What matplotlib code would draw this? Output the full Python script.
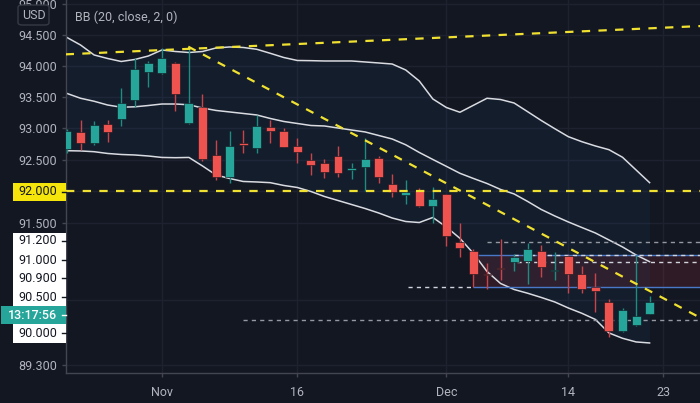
import matplotlib
matplotlib.use("Agg")
import matplotlib.pyplot as plt
import numpy as np
from matplotlib.patches import Rectangle, FancyBboxPatch
from matplotlib.lines import Line2D
from matplotlib.ticker import FixedLocator, FixedFormatter, NullLocator

plt.rcParams['font.family'] = ['Roboto', 'DejaVu Sans']
plt.rcParams['lines.scale_dashes'] = False

# ---------------- data (daily candles, Oct 22 .. Dec 22) ----------------
opens = [92.667, 92.938, 92.763, 93.075, 93.145, 93.449, 93.908, 93.892, 94.048, 93.081,
         93.346, 92.572, 92.234, 92.763, 92.693, 93.017, 92.958, 92.720, 92.498, 92.446,
         92.561, 92.344, 92.392, 92.525, 92.118, 91.945, 92.024, 91.777, 91.956, 91.203,
         91.067, 90.709, 90.807, 90.891, 90.911, 91.067, 90.751, 90.994, 90.704, 90.504,
         90.280, 89.828, 89.920, 90.090]
highs = [92.990, 93.134, 93.118, 93.134, 93.641, 94.123, 94.085, 94.285, 94.064, 94.311,
         93.550, 92.815, 92.958, 92.974, 93.214, 93.134, 93.002, 92.842, 92.614, 92.509,
         92.725, 92.446, 92.842, 92.561, 92.276, 92.182, 92.055, 92.066, 91.961, 91.510,
         91.094, 90.875, 91.250, 91.020, 91.197, 91.153, 91.044, 91.005, 90.833, 90.720,
         90.321, 90.182, 91.005, 90.368]
lows = [92.614, 92.656, 92.736, 92.788, 93.043, 93.337, 93.657, 93.871, 93.282, 93.070,
        92.487, 92.182, 92.129, 92.604, 92.614, 92.772, 92.696, 92.455, 92.260, 92.218,
        92.234, 92.197, 92.013, 92.129, 91.918, 91.803, 91.756, 91.505, 91.150, 90.978,
        90.503, 90.476, 90.616, 90.756, 90.549, 90.658, 90.616, 90.419, 90.419, 90.125,
        89.740, 89.812, 89.904, 90.082]
closes = [92.958, 92.763, 93.049, 92.943, 93.410, 93.951, 94.043, 94.133, 93.542, 93.410,
          92.514, 92.234, 92.720, 92.736, 93.038, 92.963, 92.709, 92.629, 92.414, 92.313,
          92.297, 92.366, 92.514, 92.224, 91.992, 91.997, 91.777, 91.877, 91.306, 91.109,
          90.704, 90.698, 90.791, 90.969, 91.094, 90.822, 90.771, 90.709, 90.468, 90.445,
          89.828, 90.151, 90.059, 90.280]

bb_upper = [94.459, 94.338, 94.177, 94.120, 94.072, 94.104, 94.160, 94.257, 94.233, 94.217,
            94.233, 94.290, 94.306, 94.298, 94.269, 94.204, 94.136, 94.088, 94.085, 94.080,
            94.080, 94.080, 94.064, 94.048, 94.031, 93.935, 93.758, 93.470, 93.333, 93.257,
            93.369, 93.481, 93.461, 93.405, 93.266, 93.126, 92.995, 92.868, 92.788, 92.720,
            92.661, 92.541, 92.340, 92.139]
bb_middle = [93.558, 93.481, 93.433, 93.373, 93.338, 93.344, 93.365, 93.389, 93.389, 93.377,
             93.325, 93.286, 93.262, 93.238, 93.214, 93.158, 93.110, 93.078, 93.046, 93.038,
             93.006, 92.974, 92.943, 92.887, 92.831, 92.739, 92.617, 92.506, 92.397, 92.287,
             92.205, 92.126, 92.032, 91.961, 91.843, 91.717, 91.615, 91.521, 91.434, 91.348,
             91.239, 91.130, 91.005, 90.900]
bb_lower = [92.645, 92.641, 92.629, 92.601, 92.585, 92.577, 92.561, 92.538, 92.534, 92.538,
            92.403, 92.260, 92.205, 92.158, 92.150, 92.139, 92.095, 92.063, 92.000, 91.921,
            91.858, 91.795, 91.732, 91.662, 91.583, 91.528, 91.512, 91.591, 91.442, 91.265,
            91.028, 90.748, 90.561, 90.468, 90.410, 90.345, 90.275, 90.182, 90.100, 90.005,
            89.797, 89.715, 89.659, 89.643]

date_tick_pos = [7, 17, 28, 37, 44]
date_tick_labels = ['Nov', '16', 'Dec', '14', '23']
price_ticks = [95.0, 94.5, 94.0, 93.5, 93.0, 92.5, 92.0, 91.5, 90.3, 89.3]
price_tick_labels = ['95.000', '94.500', '94.000', '93.500', '93.000', '92.500', '', '91.500', '', '89.300']

# drawings
rising_line = ([-0.1, 46.8], [94.187, 94.645])
falling_line = ([8.95, 46.8], [94.311, 90.024])
support_level = 92.0
level_lines = [  # (start index, price, colour)
    (31.0, 91.2, '#9598a1'),
    (33.0, 91.0, '#d1d4dc'),
    (33.2, 90.9, '#d1d4dc'),
    (13.0, 90.0, '#9598a1'),
]
level_left = (25.2, 30.0, 90.5)
zone_start, zone_low, zone_high = 30.0, 90.5, 91.0
axis_labels = ['91.200', '91.000', '90.900', '90.500', '90.000']
countdown = '13:17:56'

BG = '#131722'
TXT = '#b2b5be'
GRID = '#1e2230'
UP, DOWN = '#26a69a', '#ef5350'
UPW, DOWNW = '#1f8c82', '#c9444a'

W, H = 700, 403
fig = plt.figure(figsize=(W / 100, H / 100), dpi=100, facecolor=BG)
ax = fig.add_axes([66 / W, 30 / H, 634 / W, 373 / H], facecolor=BG)
ax.set_yscale('log')
ax.set_xlim(-0.074, 46.72)
ax.set_ylim(89.183, 95.068)

# grid
for xv in date_tick_pos:
    ax.axvline(xv, color=GRID, lw=1, zorder=0)
for yv in price_ticks:
    ax.axhline(yv, color=GRID, lw=1, zorder=0)

x = np.arange(len(opens))
# Bollinger
ax.fill_between(x, bb_lower, bb_upper, color='#2196f3', alpha=0.05, lw=0, zorder=1)
for band in (bb_upper, bb_middle, bb_lower):
    ax.plot(x, band, color='#d9dbe1', lw=1.1, zorder=2, solid_joinstyle='round')

# zone
zone = Rectangle((zone_start, zone_low), 60 - zone_start, zone_high - zone_low,
                 facecolor='#f23645', alpha=0.13, edgecolor='none', zorder=1.5)
ax.add_patch(zone)
ax.hlines([zone_low, zone_high], zone_start, 60, color='#4a78c8', lw=1, zorder=2.5)

# white dashed levels
for xs, pv, col in level_lines:
    ax.hlines(pv, xs, 60, color=col, lw=1, linestyles=(0, (3, 3)), zorder=2.6)
ax.hlines(level_left[2], level_left[0], level_left[1], color='#d1d4dc', lw=1,
          linestyles=(0, (3, 3)), zorder=2.6)

# candles
for i in range(len(opens)):
    o, h, l, c = opens[i], highs[i], lows[i], closes[i]
    up = c >= o
    ax.vlines(i, l, h, color=UPW if up else DOWNW, lw=1, zorder=3)
    lo, hi = min(o, c), max(o, c)
    if hi - lo < 0.02:
        mid = (hi + lo) / 2
        lo, hi = mid - 0.01, mid + 0.01
    ax.bar(i, hi - lo, bottom=lo, width=0.66, color=UP if up else DOWN,
           edgecolor='#10141c', linewidth=0.4, zorder=4)

# yellow trend lines
ax.plot(*rising_line, color='#f0e130', lw=1.6, ls=(0, (6, 6)), zorder=5)
ax.plot(*falling_line, color='#f0e130', lw=1.6, ls=(0, (6, 6)), zorder=5)
ax.axhline(support_level, color='#f0e130', lw=1.6, ls=(0, (6, 6)), zorder=5)

# axes styling
for s in ('top', 'right'):
    ax.spines[s].set_visible(False)
for s in ('left', 'bottom'):
    ax.spines[s].set_color('#434651')
    ax.spines[s].set_linewidth(1)

ax.yaxis.set_major_locator(FixedLocator(price_ticks))
ax.yaxis.set_major_formatter(FixedFormatter(price_tick_labels))
ax.yaxis.set_minor_locator(NullLocator())
ax.set_xticks(date_tick_pos)
ax.set_xticklabels(date_tick_labels)
ax.tick_params(axis='y', colors='#434651', labelcolor=TXT, length=3, width=1,
               pad=3.5, labelsize=9)
ax.tick_params(axis='x', colors='#434651', labelcolor=TXT, length=3, width=1,
               pad=6, labelsize=9)


def fx(px):
    return px / W


def fy(py):
    return 1 - py / H


# USD box
fig.add_artist(FancyBboxPatch((fx(18), fy(25)), fx(31), 20 / H,
                              boxstyle='round,pad=0,rounding_size=0.006',
                              transform=fig.transFigure, facecolor=BG,
                              edgecolor='#363a45', lw=1, zorder=5))
fig.text(fx(33.5), fy(15.5), 'USD', color=TXT, fontsize=9, ha='center', va='center', zorder=6)

# indicator title
fig.text(fx(75), fy(17), 'BB (20, close, 2, 0)', color=TXT, fontsize=9, ha='left',
         va='center', zorder=6)

# 92.000 yellow label
fig.add_artist(Rectangle((fx(12.7), fy(200.7)), fx(53), 18 / H, transform=fig.transFigure,
                         facecolor='#f5e50b', edgecolor='none', zorder=5))
fig.text(fx(57), fy(191.7), '92.000', color='#131722', fontsize=9, ha='right',
         va='center', zorder=6)
fig.add_artist(Line2D([fx(62), fx(65.5)], [fy(191.5), fy(191.5)], color='#131722', lw=1,
                      transform=fig.transFigure, zorder=6))

# stacked labels box
fig.add_artist(Rectangle((fx(12.7), fy(342.7)), fx(53), 110 / H, transform=fig.transFigure,
                         facecolor='#ffffff', edgecolor='none', zorder=5))
label_y = [241.0, 260.0, 278.3, 297.3, 333.3]
for txt, yy in zip(axis_labels, label_y):
    fig.text(fx(57), fy(yy), txt, color='#131722', fontsize=9, ha='right', va='center', zorder=6)
    fig.add_artist(Line2D([fx(62), fx(65.5)], [fy(yy), fy(yy)], color='#131722', lw=1,
                          transform=fig.transFigure, zorder=6))
fig.add_artist(Rectangle((fx(0.7), fy(324.3)), fx(65), 18.3 / H, transform=fig.transFigure,
                         facecolor='#26a69a', edgecolor='none', zorder=5.5))
fig.text(fx(57), fy(315.2), countdown, color='white', fontsize=9, ha='right', va='center',
         zorder=6, fontweight='medium')
fig.add_artist(Line2D([fx(62), fx(65.5)], [fy(315.2), fy(315.2)], color='white', lw=1,
                      transform=fig.transFigure, zorder=6))

fig.savefig('out.png', dpi=100, facecolor=BG)
